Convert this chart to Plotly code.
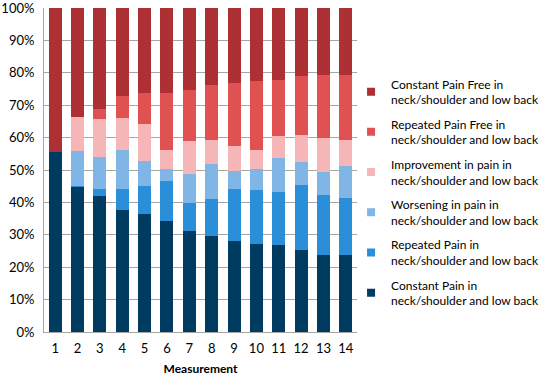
import plotly.graph_objects as go

measurements = [str(i) for i in range(1, 15)]

constant_pain = [55.5, 45.0, 42.0, 37.6, 36.3, 34.3, 31.3, 29.5, 28.2, 27.2, 26.7, 25.3, 23.7, 23.7]
repeated_pain = [0.0, 0.2, 2.1, 6.6, 8.8, 12.4, 8.6, 11.6, 15.9, 16.5, 16.6, 20.0, 18.6, 17.7]
worsening = [0.0, 10.7, 10.0, 12.1, 7.7, 3.5, 8.9, 10.6, 5.7, 6.5, 10.3, 7.2, 7.2, 9.9]
improvement = [0.0, 10.6, 11.6, 9.7, 11.4, 6.0, 10.0, 7.6, 7.6, 6.0, 6.9, 8.3, 10.3, 8.0]
repeated_free = [0.0, 0.0, 3.1, 6.8, 9.5, 17.5, 15.9, 16.9, 19.3, 21.3, 17.3, 18.1, 19.5, 20.0]
constant_free = [44.5, 33.5, 31.2, 27.2, 26.3, 26.3, 25.3, 23.8, 23.3, 22.5, 22.2, 21.1, 20.7, 20.7]

names = [
    "Constant Pain in<br>neck/shoulder and low back",
    "Repeated Pain in<br>neck/shoulder and low back",
    "Worsening in pain in<br>neck/shoulder and low back",
    "Improvement in pain in<br>neck/shoulder and low back",
    "Repeated Pain Free in<br>neck/shoulder and low back",
    "Constant Pain Free in<br>neck/shoulder and low back",
]
series = [constant_pain, repeated_pain, worsening, improvement, repeated_free, constant_free]
colors = ["#003B62", "#2A8ED8", "#80B6E6", "#F6B6B7", "#E05152", "#AD3034"]

fig = go.Figure()
for s, n, c in zip(series, names, colors):
    fig.add_trace(go.Bar(x=measurements, y=s, name=n, marker=dict(color=c, line=dict(width=0)),
                         showlegend=False))
# legend entries, top to bottom as in the reference
for i, (n, c) in enumerate(zip(names[::-1], colors[::-1])):
    fig.add_trace(go.Scatter(x=[None], y=[None], mode="markers", name=n,
                             marker=dict(symbol="square", size=8, color=c),
                             legendgroup=f"g{i}", showlegend=True))

fig.update_layout(
    barmode="stack",
    bargap=0.42,
    width=550, height=378,
    margin=dict(l=44, r=193, t=8, b=46, autoexpand=False),
    paper_bgcolor="white", plot_bgcolor="white",
    font=dict(family="Lato, 'Open Sans', sans-serif", size=12, color="#000000"),
    legend=dict(
        x=0.981, xanchor="left", y=0.81, yanchor="top",
        traceorder="grouped", tracegroupgap=6,
        font=dict(size=12, color="#000000"),
        itemwidth=30, bgcolor="rgba(0,0,0,0)",
    ),
    xaxis=dict(
        type="category", showgrid=False, showline=True, linecolor="#A6A6A6", linewidth=1,
        ticks="", tickfont=dict(size=13, color="#000000"), ticklabelstandoff=4,
        title=dict(text="<b>Measurement</b>", font=dict(size=12, color="#000000"), standoff=10),
    ),
    yaxis=dict(
        range=[0, 100], dtick=10, ticksuffix="%", showgrid=True, gridcolor="#A6A6A6", gridwidth=1,
        showline=True, linecolor="#A6A6A6", linewidth=1, ticks="", ticklabelstandoff=6,
        ticklabeloverflow="allow",
        tickfont=dict(size=13, color="#000000"), zeroline=False,
    ),
)

fig.write_html("out.html", config={"displayModeBar": False},
               post_script="document.body.style.margin='0';")
